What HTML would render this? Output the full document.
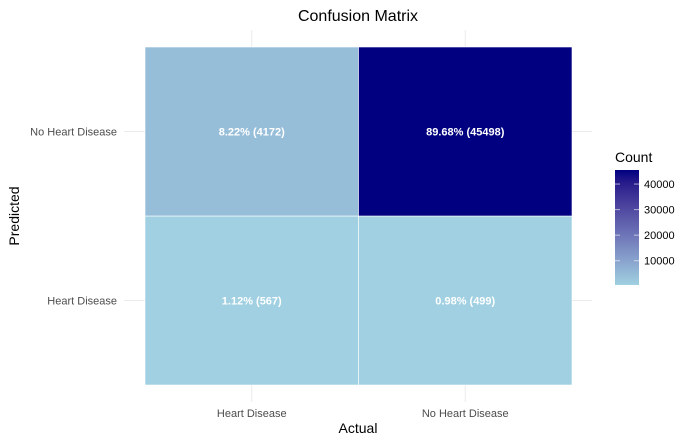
<!DOCTYPE html>
<html><head><meta charset="utf-8"><style>
body{margin:0;background:#fff;font-family:"Liberation Sans",sans-serif;}
svg{display:block}
</style></head><body>
<svg id="c" width="693" height="445" viewBox="0 0 693 445">
<text x="358" y="21" text-anchor="middle" font-size="16" fill="#000">Confusion Matrix</text>
<g id="grid"></g>
<g id="tiles"></g>
<g id="axes"></g>
<text x="358" y="433" text-anchor="middle" font-size="14">Actual</text>
<text transform="translate(19,216) rotate(-90)" text-anchor="middle" font-size="14">Predicted</text>
<text x="615" y="162" font-size="14">Count</text>
<defs><linearGradient id="lg" x1="0" y1="1" x2="0" y2="0"></linearGradient></defs>
<g id="legend"></g>
</svg>
<script>
const actualCats=["Heart Disease","No Heart Disease"];
const predCats=["Heart Disease","No Heart Disease"];
const counts=[[567,4172],[499,45498]]; // counts[actualIdx][predIdx]
const pctLabels=[["1.12%","8.22%"],["0.98%","89.68%"]];
const legendTicks=[10000,20000,30000,40000];
const NS="http://www.w3.org/2000/svg";
const svg=document.getElementById('c');
function mk(t,a,p){const e=document.createElementNS(NS,t);for(const k in a)e.setAttribute(k,a[k]);(p||svg).appendChild(e);return e;}
const x0=145,cw=213.5,yTop=47,ch=169;
const xPos=i=>x0+i*cw, yPos=j=>yTop+(predCats.length-1-j)*ch;
const flat=counts.flat();const vmin=Math.min(...flat),vmax=Math.max(...flat);
// Lab interpolation
function toLin(c){c/=255;return c<=0.04045?c/12.92:Math.pow((c+0.055)/1.055,2.4);}
function fromLin(c){c=c<=0.0031308?12.92*c:1.055*Math.pow(c,1/2.4)-0.055;return Math.max(0,Math.min(255,Math.round(c*255)));}
function rgb2lab(r,g,b){r=toLin(r);g=toLin(g);b=toLin(b);let X=(0.4124*r+0.3576*g+0.1805*b)/0.95047,Y=0.2126*r+0.7152*g+0.0722*b,Z=(0.0193*r+0.1192*g+0.9505*b)/1.08883;const f=t=>t>0.008856?Math.cbrt(t):7.787*t+16/116;X=f(X);Y=f(Y);Z=f(Z);return[116*Y-16,500*(X-Y),200*(Y-Z)];}
function lab2rgb(L,a,b){let Y=(L+16)/116,X=a/500+Y,Z=Y-b/200;const fi=t=>t*t*t>0.008856?t*t*t:(t-16/116)/7.787;X=fi(X)*0.95047;Y=fi(Y);Z=fi(Z)*1.08883;const r=3.2406*X-1.5372*Y-0.4986*Z,g=-0.9689*X+1.8758*Y+0.0415*Z,bb=0.0557*X-0.2040*Y+1.0570*Z;return`rgb(${fromLin(r)},${fromLin(g)},${fromLin(bb)})`;}
const lo=rgb2lab(160,208,225),hi=rgb2lab(0,0,128);
function col(v){const t=(v-vmin)/(vmax-vmin);return lab2rgb(lo[0]+(hi[0]-lo[0])*t,lo[1]+(hi[1]-lo[1])*t,lo[2]+(hi[2]-lo[2])*t);}
const grid=document.getElementById('grid');
actualCats.forEach((c,i)=>{const l=mk('line',{x1:xPos(i)+cw/2,x2:xPos(i)+cw/2,y1:30,y2:402,stroke:'#ebebeb','stroke-width':1},grid);

});
predCats.forEach((c,j)=>{const l=mk('line',{x1:124,x2:592,y1:yPos(j)+ch/2,y2:yPos(j)+ch/2,stroke:'#ebebeb','stroke-width':1},grid);

});
const tiles=document.getElementById('tiles');
actualCats.forEach((a,i)=>predCats.forEach((p,j)=>{
 const r=mk('rect',{x:xPos(i),y:yPos(j),width:cw,height:ch,fill:col(counts[i][j]),stroke:'#fff','stroke-width':0.6},tiles);
 
 
 const t=mk('text',{x:xPos(i)+cw/2,y:yPos(j)+ch/2+4,'text-anchor':'middle','font-size':11,'font-weight':'bold',fill:'#fff'},tiles);
 t.textContent=pctLabels[i][j]+' ('+counts[i][j]+')';
 
 
}));
const ax=document.getElementById('axes');
actualCats.forEach((c,i)=>{const t=mk('text',{x:xPos(i)+cw/2,y:417,'text-anchor':'middle','font-size':11,fill:'#4d4d4d'},ax);t.textContent=c;

});
predCats.forEach((c,j)=>{const t=mk('text',{x:117,y:yPos(j)+ch/2+4,'text-anchor':'end','font-size':11,fill:'#4d4d4d'},ax);t.textContent=c;

});
// legend
const lg=document.getElementById('lg');
for(let k=0;k<=10;k++){mk('stop',{offset:k/10,'stop-color':col(vmin+(vmax-vmin)*k/10)},lg);}
const leg=document.getElementById('legend');
const lbTop=170,lbBot=285,lx=615,lw=24;
const ly=v=>lbBot-(v-vmin)/(vmax-vmin)*(lbBot-lbTop);
const bar=mk('rect',{x:lx,y:lbTop,width:lw,height:lbBot-lbTop,fill:'url(#lg)'},leg);


legendTicks.forEach(v=>{const y=ly(v);
 mk('line',{x1:lx,x2:lx+5,y1:y,y2:y,stroke:'#fff','stroke-opacity':0.6},leg);
 mk('line',{x1:lx+lw-5,x2:lx+lw,y1:y,y2:y,stroke:'#fff','stroke-opacity':0.6},leg);
 const t=mk('text',{x:lx+29,y:y+4,'font-size':11,fill:'#000'},leg);t.textContent=v;
 
 });
</script>
</body></html>
